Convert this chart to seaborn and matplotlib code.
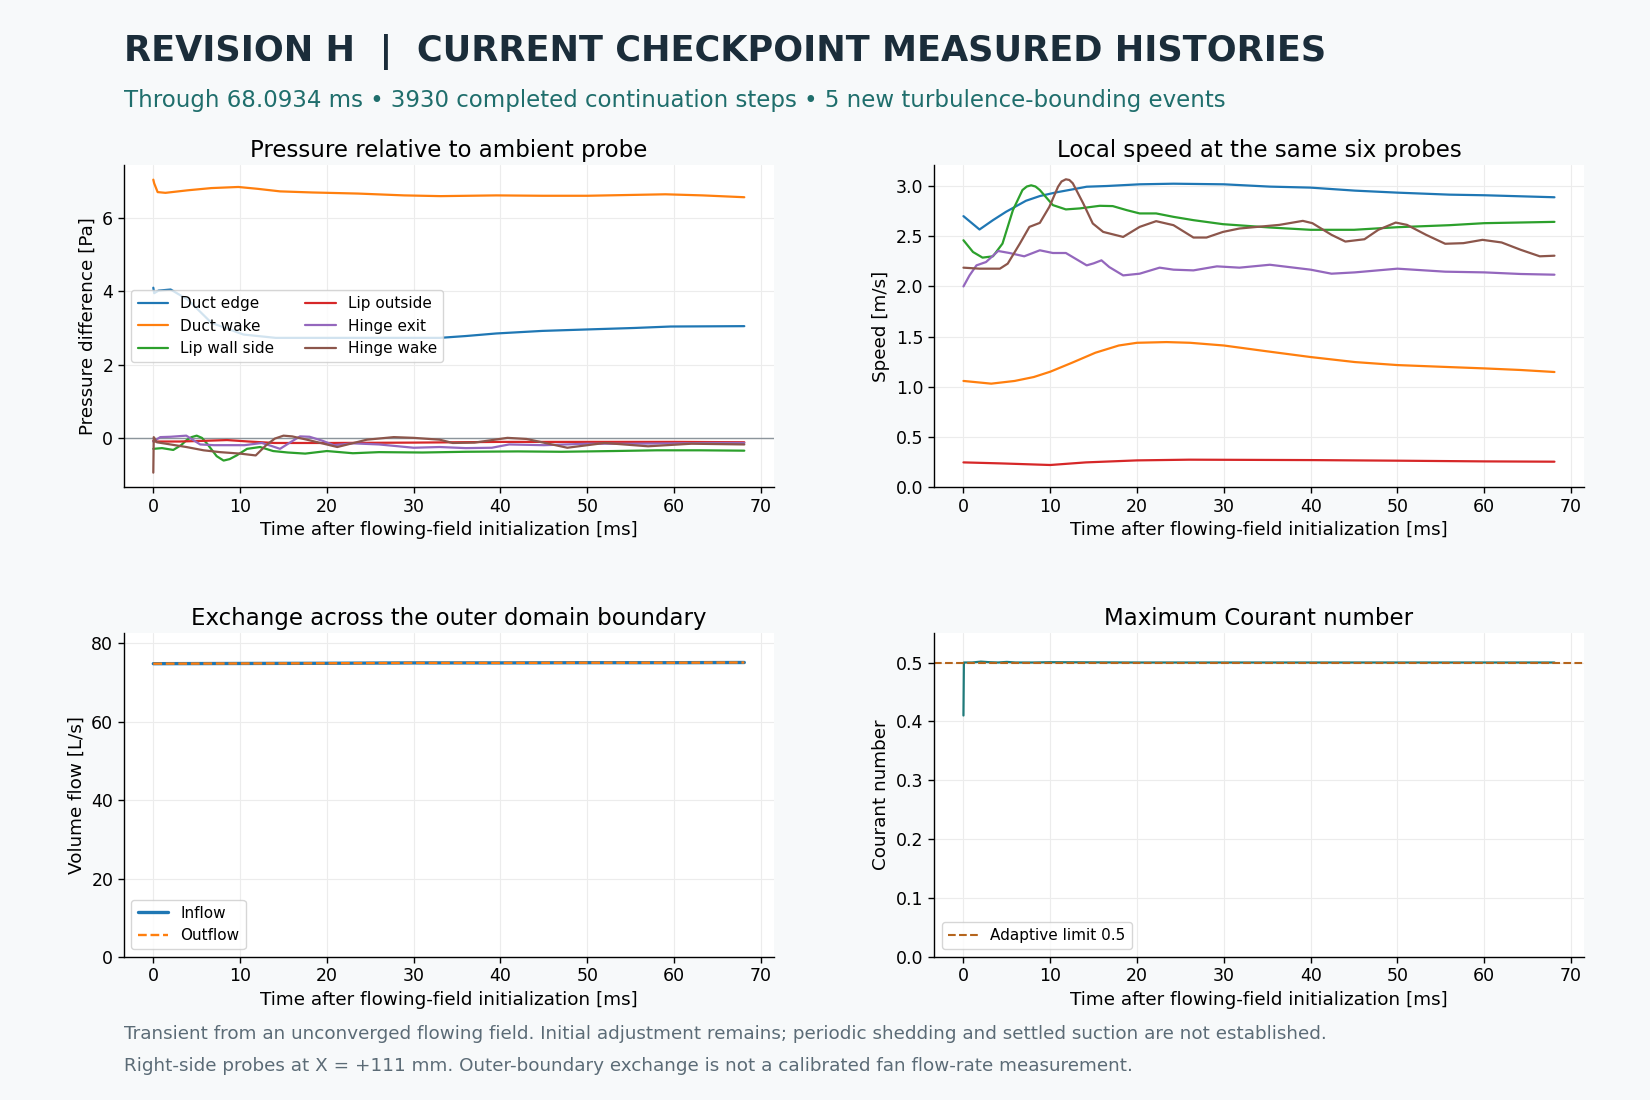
import numpy as np
import pandas as pd
import matplotlib
matplotlib.use("Agg")
import matplotlib.pyplot as plt
import seaborn as sns

# probe names and colours
probes = ["Duct edge", "Duct wake", "Lip wall side", "Lip outside", "Hinge exit", "Hinge wake"]
probe_colors = ["#1f77b4", "#ff7f0e", "#2ca02c", "#d62728", "#9467bd", "#8c564b"]

# pressure relative to ambient [Pa]
p_duct_edge_t = [0, 0.1, 0.6, 2, 4, 6.7, 10.4, 14.1, 21, 33, 36, 39.5, 44.8, 50, 55.4, 59.6, 68.09]
p_duct_edge_v = [4.1, 3.95, 4.02, 4.05, 3.77, 3.14, 2.82, 2.73, 2.73, 2.73, 2.78, 2.85, 2.92, 2.96, 3.0, 3.04, 3.05]
p_duct_wake_t = [0, 0.1, 0.5, 1.4, 4, 6.7, 9.8, 12, 14.6, 18.3, 23.6, 28.9, 33.1, 39.5, 44.8, 50, 59, 63.3, 68.09]
p_duct_wake_v = [7.05, 6.95, 6.71, 6.69, 6.76, 6.82, 6.85, 6.8, 6.73, 6.7, 6.67, 6.62, 6.6, 6.62, 6.61, 6.61, 6.65, 6.62, 6.57]
p_lip_wall_t = [0, 1, 2.3, 3.2, 3.8, 4.4, 5, 5.6, 6.2, 7.3, 8.1, 8.8, 9.6, 10.8, 12.3, 13.8, 15.5, 17.5, 20, 23, 26, 31, 36, 42, 47, 53, 58, 63, 68.09]
p_lip_wall_v = [-0.3, -0.28, -0.33, -0.2, -0.07, 0.02, 0.06, 0.0, -0.16, -0.5, -0.62, -0.58, -0.48, -0.3, -0.25, -0.36, -0.4, -0.43, -0.36, -0.42, -0.39, -0.4, -0.38, -0.37, -0.38, -0.36, -0.34, -0.34, -0.35]
p_lip_out_t = [0, 0.1, 3, 6, 8.5, 11, 14, 20, 30, 40, 50, 60, 68.09]
p_lip_out_v = [-0.08, -0.1, -0.1, -0.08, -0.06, -0.1, -0.14, -0.14, -0.13, -0.11, -0.11, -0.11, -0.12]
p_hinge_exit_t = [0, 0.8, 2, 3.8, 4.6, 5.4, 7, 10.5, 12.5, 13.6, 14.6, 15.8, 16.9, 18, 19.5, 20.8, 23, 26, 30, 33, 36, 39, 41, 45, 50, 55, 60, 64, 68.09]
p_hinge_exit_v = [-0.1, 0.02, 0.03, 0.06, -0.06, -0.18, -0.2, -0.2, -0.14, -0.22, -0.3, -0.12, 0.04, 0.03, -0.08, -0.2, -0.15, -0.18, -0.27, -0.25, -0.28, -0.27, -0.18, -0.2, -0.16, -0.16, -0.15, -0.14, -0.14]
p_hinge_wake_t = [0, 0.05, 0.4, 3.8, 5.8, 7.7, 10, 11.8, 13, 14, 15, 16, 17.7, 21.2, 24.6, 27.7, 30, 33, 34.5, 37, 40.8, 43, 47.7, 52, 57, 62, 68.09]
p_hinge_wake_v = [-0.95, 0.02, -0.12, -0.25, -0.34, -0.39, -0.43, -0.48, -0.2, -0.02, 0.06, 0.04, -0.05, -0.25, -0.05, 0.02, 0.0, -0.05, -0.14, -0.13, 0.0, -0.03, -0.27, -0.14, -0.23, -0.16, -0.18]

# local speed [m/s]
s_duct_edge_t = [0, 1.85, 3.4, 4.9, 7.2, 8.8, 10.7, 12.6, 14.2, 16.5, 20.3, 24.2, 30, 35.3, 40, 45.1, 50, 56, 60, 68.09]
s_duct_edge_v = [2.7, 2.567, 2.66, 2.743, 2.853, 2.9, 2.937, 2.967, 2.993, 3.0, 3.017, 3.023, 3.017, 2.994, 2.984, 2.954, 2.934, 2.914, 2.908, 2.888]
s_duct_wake_t = [0, 3.2, 5.9, 8.1, 10, 12.5, 15.2, 17.9, 20, 23.4, 26.1, 30, 34.8, 40, 45.1, 50, 56, 60, 64.2, 68.09]
s_duct_wake_v = [1.059, 1.032, 1.059, 1.098, 1.151, 1.24, 1.34, 1.412, 1.439, 1.446, 1.439, 1.412, 1.356, 1.297, 1.247, 1.217, 1.197, 1.184, 1.168, 1.148]
s_lip_wall_t = [0, 1.1, 2.2, 3.4, 4.5, 5.7, 6.8, 7.3, 7.8, 8.3, 8.8, 10.3, 11.8, 13.4, 15.7, 17.2, 18.8, 20.3, 22.2, 24.2, 26.5, 29.9, 35.3, 40, 45, 50, 56, 60, 68.09]
s_lip_wall_v = [2.46, 2.343, 2.287, 2.3, 2.427, 2.76, 2.96, 2.995, 3.007, 2.995, 2.96, 2.81, 2.767, 2.777, 2.803, 2.8, 2.76, 2.727, 2.727, 2.693, 2.66, 2.62, 2.587, 2.564, 2.564, 2.59, 2.61, 2.63, 2.643]
s_lip_out_t = [0, 4.3, 10, 14.1, 20, 26, 40, 50, 60, 68.09]
s_lip_out_v = [0.248, 0.238, 0.222, 0.248, 0.268, 0.275, 0.271, 0.265, 0.258, 0.255]
s_hinge_exit_t = [0, 0.7, 1.5, 2.6, 4.0, 5.3, 7.0, 8.8, 10.3, 11.8, 14.2, 15.0, 15.9, 16.8, 18.4, 20.3, 22.6, 24.2, 26.5, 29.2, 31.8, 35.3, 40, 42.4, 45.1, 50, 55.5, 60, 64.2, 68.09]
s_hinge_exit_v = [2.0, 2.11, 2.21, 2.243, 2.353, 2.333, 2.3, 2.36, 2.333, 2.333, 2.21, 2.23, 2.26, 2.193, 2.11, 2.127, 2.187, 2.167, 2.16, 2.2, 2.187, 2.216, 2.167, 2.127, 2.14, 2.177, 2.147, 2.14, 2.124, 2.117]
s_hinge_wake_t = [0, 1.85, 4.2, 5.1, 6.5, 7.6, 8.8, 9.9, 10.9, 11.3, 11.8, 12.2, 12.6, 13.8, 14.9, 16.1, 18.4, 20.3, 22.2, 24.2, 26.5, 28.0, 29.9, 31.8, 36.4, 39.1, 40.2, 42.4, 44, 46.2, 47.8, 49.8, 51.1, 53.3, 55.5, 57.6, 59.8, 62, 64.2, 66.4, 68.09]
s_hinge_wake_v = [2.187, 2.177, 2.177, 2.227, 2.427, 2.593, 2.633, 2.793, 2.993, 3.045, 3.067, 3.06, 3.027, 2.827, 2.627, 2.543, 2.493, 2.593, 2.65, 2.61, 2.487, 2.487, 2.543, 2.577, 2.613, 2.653, 2.63, 2.514, 2.447, 2.47, 2.564, 2.636, 2.613, 2.514, 2.425, 2.431, 2.464, 2.438, 2.365, 2.3, 2.306]

# outer-boundary exchange [L/s]
flow_t = [0, 10, 20, 30, 40, 50, 60, 68.09]
inflow_v = [74.8, 74.85, 74.9, 75.0, 75.0, 75.05, 75.05, 75.1]
outflow_v = [74.8, 74.85, 74.9, 75.0, 75.0, 75.05, 75.05, 75.1]

# maximum Courant number
cfl_t = [0, 0.05, 1, 2, 3, 4, 5, 6, 8, 10, 20, 30, 40, 50, 60, 68.09]
cfl_v = [0.41, 0.5, 0.5, 0.5015, 0.5005, 0.5, 0.501, 0.5, 0.5, 0.5005, 0.5, 0.5, 0.5, 0.5, 0.5, 0.5]
cfl_limit = 0.5

pressure = [(p_duct_edge_t, p_duct_edge_v), (p_duct_wake_t, p_duct_wake_v), (p_lip_wall_t, p_lip_wall_v),
            (p_lip_out_t, p_lip_out_v), (p_hinge_exit_t, p_hinge_exit_v), (p_hinge_wake_t, p_hinge_wake_v)]
speed = [(s_duct_edge_t, s_duct_edge_v), (s_duct_wake_t, s_duct_wake_v), (s_lip_wall_t, s_lip_wall_v),
         (s_lip_out_t, s_lip_out_v), (s_hinge_exit_t, s_hinge_exit_v), (s_hinge_wake_t, s_hinge_wake_v)]

BG = "#f7f9fa"
sns.set_theme(style="ticks", rc={
    "figure.facecolor": BG,
    "axes.facecolor": "white",
    "axes.edgecolor": "black",
    "axes.grid": True,
    "grid.color": "#ececec",
    "grid.linewidth": 0.8,
    "text.color": "black",
    "axes.labelcolor": "black",
    "xtick.color": "black",
    "ytick.color": "black",
    "xtick.labelsize": 12.5,
    "ytick.labelsize": 12.5,
    "axes.labelsize": 13.2,
    "axes.titlesize": 16.5,
    "legend.fontsize": 11,
})
plt.rcParams["font.family"] = ["DejaVu Sans"]

fig = plt.figure(figsize=(16.5, 11), dpi=100)
L1, W = 0.075, 0.394
L2 = 0.566
ax_p = fig.add_axes([L1, 0.557, W, 0.293])
ax_s = fig.add_axes([L2, 0.557, W, 0.293])
ax_f = fig.add_axes([L1, 0.13, W, 0.2945])
ax_c = fig.add_axes([L2, 0.13, W, 0.2945])

xlab = "Time after flowing-field initialization [ms]"

# pressure
for name, col, (t, v) in zip(probes, probe_colors, pressure):
    sns.lineplot(x=t, y=v, ax=ax_p, color=col, label=name, estimator=None, sort=False, linewidth=1.6)
ax_p.axhline(0, color="#8c959c", linewidth=1.0, zorder=1)
ax_p.set_title("Pressure relative to ambient probe")
ax_p.set_xlabel(xlab)
ax_p.set_ylabel("Pressure difference [Pa]")
ax_p.set_yticks([0, 2, 4, 6])
ax_p.legend(loc="center left", ncol=2, frameon=True, handlelength=2.0, columnspacing=2.0)

# speed
for name, col, (t, v) in zip(probes, probe_colors, speed):
    sns.lineplot(x=t, y=v, ax=ax_s, color=col, estimator=None, sort=False, linewidth=1.6)
ax_s.set_ylim(bottom=0)
ax_s.set_title("Local speed at the same six probes")
ax_s.set_xlabel(xlab)
ax_s.set_ylabel("Speed [m/s]")

# boundary exchange
sns.lineplot(x=flow_t, y=inflow_v, ax=ax_f, color="#1f77b4", linewidth=2.4, label="Inflow", estimator=None)
sns.lineplot(x=flow_t, y=outflow_v, ax=ax_f, color="#ff7f0e", linewidth=1.7, linestyle="--", label="Outflow", estimator=None)
ax_f.set_ylim(0, max(inflow_v) * 1.1)
ax_f.set_yticks([0, 20, 40, 60, 80])
ax_f.set_title("Exchange across the outer domain boundary")
ax_f.set_xlabel(xlab)
ax_f.set_ylabel("Volume flow [L/s]")
ax_f.legend(loc="lower left", frameon=True)

# Courant
sns.lineplot(x=cfl_t, y=cfl_v, ax=ax_c, color="#1f7a7a", linewidth=1.6, estimator=None, sort=False)
ax_c.axhline(cfl_limit, color="#b5651d", linestyle="--", linewidth=1.5, label="Adaptive limit 0.5")
ax_c.set_ylim(0, 0.55)
ax_c.set_title("Maximum Courant number")
ax_c.set_xlabel(xlab)
ax_c.set_ylabel("Courant number")
ax_c.legend(loc="lower left", frameon=True)

for ax in (ax_p, ax_s, ax_f, ax_c):
    sns.despine(ax=ax)
    ax.set_xticks([0, 10, 20, 30, 40, 50, 60, 70])
    ax.tick_params(direction="out", length=4, width=1)
    for s in ("left", "bottom"):
        ax.spines[s].set_linewidth(1.0)
    ax.set_axisbelow(True)

fig.text(0.075, 0.953, "REVISION H  |  CURRENT CHECKPOINT MEASURED HISTORIES",
         fontsize=25.3, fontweight="bold", color="#1b2d3a", va="center", ha="left")
fig.text(0.075, 0.909, "Through 68.0934 ms \u2022 3930 completed continuation steps \u2022 5 new turbulence-bounding events",
         fontsize=16.5, color="#1f6e6c", va="center", ha="left")
fig.text(0.075, 0.060, "Transient from an unconverged flowing field. Initial adjustment remains; periodic shedding and settled suction are not established.",
         fontsize=13.2, color="#5b6b76", va="center", ha="left")
fig.text(0.075, 0.031, "Right-side probes at X = +111 mm. Outer-boundary exchange is not a calibrated fan flow-rate measurement.",
         fontsize=13.2, color="#5b6b76", va="center", ha="left")

fig.savefig("out.png", dpi=100, facecolor=BG)
